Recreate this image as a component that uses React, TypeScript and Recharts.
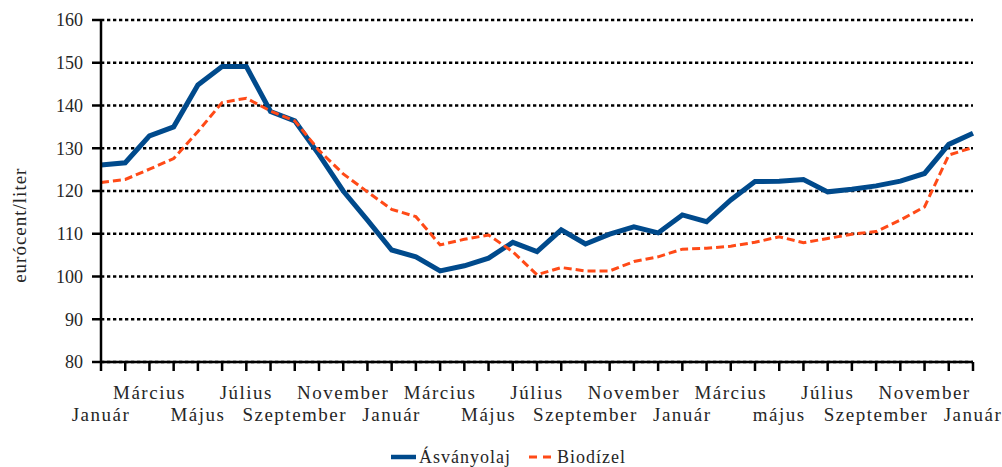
import { CartesianGrid, Label, Legend, Line, LineChart, XAxis, YAxis } from 'recharts';

const MONTHS = [
    'Január', 'Február', 'Március', 'Április', 'Május', 'Június', 'Július', 'Augusztus', 'Szeptember', 'Október', 'November', 'December',
    'Január', 'Február', 'Március', 'Április', 'Május', 'Június', 'Július', 'Augusztus', 'Szeptember', 'Október', 'November', 'December',
    'Január', 'Február', 'Március', 'Április', 'május', 'Június', 'Július', 'Augusztus', 'Szeptember', 'Október', 'November', 'December',
    'Január',
];

const MINERAL_OIL = [
    126.1, 126.6, 132.9, 135.0, 144.8, 149.1, 149.1, 138.6, 136.4, 128.5, 120.0, 113.2,
    106.2, 104.6, 101.3, 102.5, 104.3, 108.0, 105.8, 110.9, 107.6, 109.9, 111.6, 110.2,
    114.4, 112.8, 117.9, 122.2, 122.3, 122.7, 119.8, 120.4, 121.2, 122.3, 124.1, 130.9,
    133.5,
];

const BIODIESEL = [
    122.0, 122.7, 125.1, 127.6, 133.9, 140.7, 141.7, 138.7, 136.4, 129.5, 124.0, 119.8,
    115.7, 114.0, 107.4, 108.7, 109.7, 105.8, 100.4, 102.1, 101.3, 101.3, 103.5, 104.6,
    106.4, 106.6, 107.1, 108.0, 109.3, 107.9, 108.9, 109.9, 110.5, 113.2, 116.3, 128.4,
    130.2,
];

const Y_TICKS = [80, 90, 100, 110, 120, 130, 140, 150, 160];

const BLUE = '#004a8c';
const ORANGE = '#ff4a17';
const FONT = '"Liberation Serif", "DejaVu Serif", serif';
const TEXT = '#262626';

const data = MONTHS.map((m, i) => ({ month: m, oil: MINERAL_OIL[i], bio: BIODIESEL[i] }));

function MonthTick(props: any) {
    const { x, y, payload, index } = props;
    if (index % 2 !== 0) return null;
    const lower = (index / 2) % 2 === 0;
    return (
        <text x={x} y={y + (lower ? 50 : 28)} textAnchor="middle" fill={TEXT} fontSize={19} fontFamily={FONT} letterSpacing={1.5}>
            {payload.value}
        </text>
    );
}

function LegendContent() {
    const item = { display: 'flex', alignItems: 'center' } as const;
    return (
        <div style={{ display: 'flex', justifyContent: 'flex-start', paddingLeft: 391, height: 20, fontFamily: FONT, fontSize: 18, color: TEXT, letterSpacing: 1 }}>
            <div style={item}>
                <svg width={25} height={10} style={{ marginRight: 3 }}><line x1={0} y1={5} x2={25} y2={5} stroke={BLUE} strokeWidth={4.5} /></svg>
                <span>Ásványolaj</span>
            </div>
            <div style={{ ...item, marginLeft: 18 }}>
                <svg width={23} height={10} style={{ marginRight: 5 }}><line x1={0} y1={5} x2={23} y2={5} stroke={ORANGE} strokeWidth={3} strokeDasharray="8 6" /></svg>
                <span>Biodízel</span>
            </div>
        </div>
    );
}

export default function App() {
    return (
        <div style={{ position: 'absolute', left: 0, top: 0, background: '#fff' }}>
            <LineChart width={1002} height={467} data={data} margin={{ top: 20, right: 29, bottom: 0, left: 0 }}>
                <CartesianGrid vertical={false} stroke="#000" strokeWidth={2.5} strokeDasharray="3.3 2.7" />
                <XAxis
                    dataKey="month"
                    interval={0}
                    height={85}
                    tickSize={9}
                    tickMargin={0}
                    tick={<MonthTick />}
                    axisLine={{ stroke: '#000', strokeWidth: 2.5 }}
                    tickLine={{ stroke: '#000', strokeWidth: 2.5 }}
                />
                <YAxis
                    domain={[80, 160]}
                    ticks={Y_TICKS}
                    width={101}
                    tickSize={9}
                    tickMargin={9}
                    tick={{ fill: TEXT, fontSize: 18, fontFamily: FONT }}
                    axisLine={{ stroke: '#000', strokeWidth: 2.5 }}
                    tickLine={{ stroke: '#000', strokeWidth: 2.5 }}
                >
                    <Label
                        content={({ viewBox }: any) => {
                            const cx = viewBox.x + 20;
                            const cy = viewBox.y + viewBox.height * 0.6;
                            return (
                                <text x={cx} y={cy} transform={`rotate(-90 ${cx} ${cy})`} textAnchor="middle" dominantBaseline="central" fill={TEXT} fontSize={19} fontFamily={FONT} letterSpacing={1}>
                                    eurócent/liter
                                </text>
                            );
                        }}
                    />
                </YAxis>
                <Legend verticalAlign="bottom" content={<LegendContent />} />
                <Line type="linear" dataKey="oil" name="Ásványolaj" stroke={BLUE} strokeWidth={5} dot={false} isAnimationActive={false} />
                <Line type="linear" dataKey="bio" name="Biodízel" stroke={ORANGE} strokeWidth={3} strokeDasharray="8 4" dot={false} isAnimationActive={false} />
            </LineChart>
        </div>
    );
}
